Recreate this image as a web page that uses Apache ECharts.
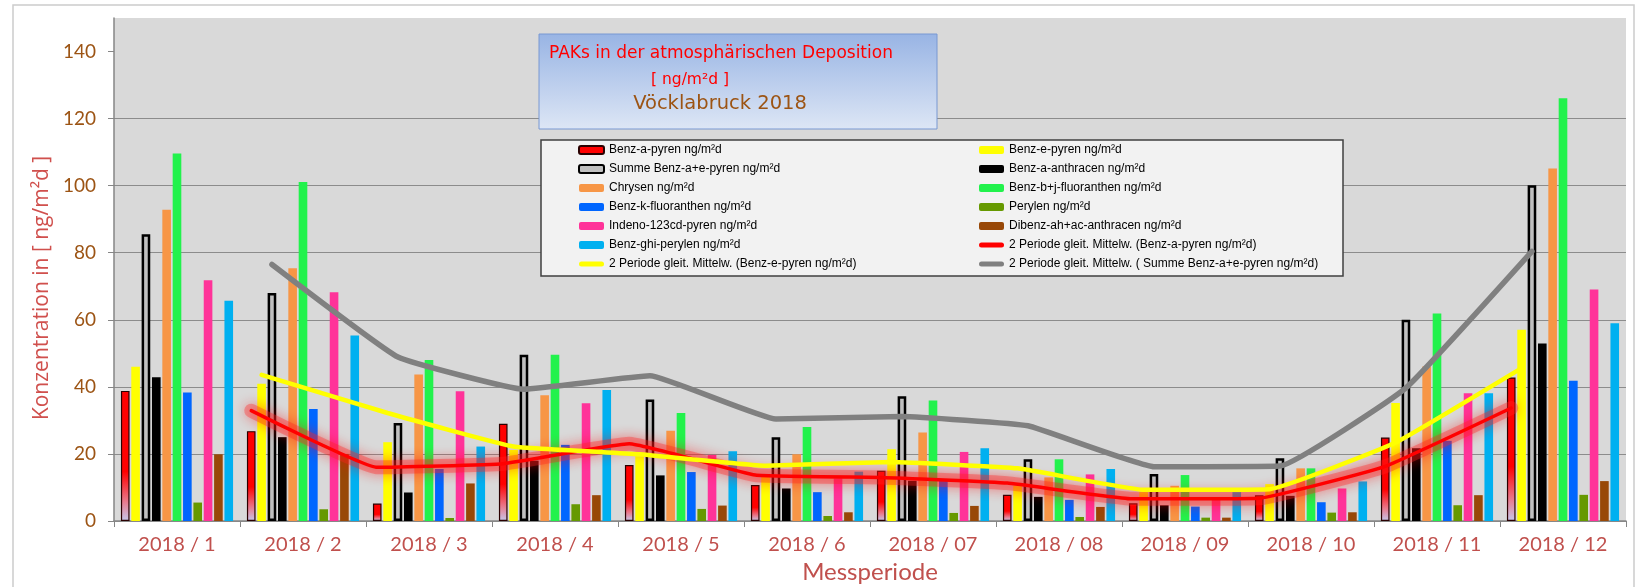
<!DOCTYPE html>
<html>
<head>
<meta charset="utf-8">
<title>PAKs in der atmosphärischen Deposition - Vöcklabruck 2018</title>
<script src="https://cdn.jsdelivr.net/npm/echarts@6/dist/echarts.min.js"></script>
<style>
  html, body { margin: 0; padding: 0; background: #fff; }
  #chart { width: 1637px; height: 587px; }
</style>
</head>
<body>
<div id="chart"></div>
<script>
// Messperioden
const categories = ['2018 / 1', '2018 / 2', '2018 / 3', '2018 / 4', '2018 / 5', '2018 / 6',
  '2018 / 07', '2018 / 08', '2018 / 09', '2018 / 10', '2018 / 11', '2018 / 12']

// Werte in ng/m²d
const benzAPyren = [38.8, 26.8, 5.2, 29.0, 16.7, 10.7, 15.0, 7.8, 5.3, 7.7, 24.9, 42.8]
const benzEPyren = [46.0, 40.9, 23.5, 21.2, 19.3, 14.0, 21.4, 10.5, 8.6, 11.0, 35.2, 57.0]
const summeAE = [85.5, 68.0, 29.2, 49.6, 36.2, 25.0, 37.2, 18.4, 14.0, 18.7, 60.0, 100.1]
const benzAAnthracen = [42.9, 25.0, 8.5, 18.0, 13.6, 9.7, 12.0, 7.2, 4.7, 7.5, 21.7, 52.9]
const chrysen = [92.8, 75.4, 43.7, 37.5, 26.9, 19.9, 26.4, 13.0, 10.5, 15.7, 46.1, 105.1]
const benzBJFluoranthen = [109.6, 101.1, 48.0, 49.6, 32.2, 28.0, 35.9, 18.4, 13.7, 15.7, 61.9, 126.1]
const benzKFluoranthen = [38.3, 33.4, 15.5, 22.7, 14.6, 8.6, 12.0, 6.3, 4.3, 5.6, 23.9, 41.8]
const perylen = [5.5, 3.5, 0.9, 5.0, 3.6, 1.5, 2.4, 1.2, 1.0, 2.5, 4.7, 7.8]
const indenoPyren = [71.8, 68.2, 38.7, 35.1, 19.7, 12.7, 20.6, 13.9, 7.0, 9.7, 38.1, 69.0]
const dibenzAnthracen = [19.9, 20.0, 11.2, 7.7, 4.6, 2.6, 4.5, 4.2, 1.0, 2.6, 7.7, 11.9]
const benzGhiPerylen = [65.7, 55.3, 22.2, 39.1, 20.8, 14.7, 21.7, 15.5, 8.6, 11.8, 38.1, 59.0]

// 2 Perioden gleitende Mittelwerte (erste Periode leer)
const maBenzAPyren = [null, 32.9, 16.0, 17.1, 23.0, 13.7, 13.0, 11.3, 6.6, 6.8, 16.3, 33.7]
const maBenzEPyren = [null, 43.6, 32.2, 22.2, 19.9, 16.5, 17.6, 15.7, 9.3, 9.5, 23.4, 45.6]
const maSumme = [null, 76.5, 48.9, 39.3, 43.3, 30.4, 31.2, 28.4, 16.2, 16.4, 39.7, 80.4]

const yTicks = [0, 20, 40, 60, 80, 100, 120, 140]

const barSeriesDefs = [
  { name: 'Benz-a-pyren ng/m²d', data: benzAPyren },
  { name: 'Benz-e-pyren ng/m²d', data: benzEPyren, color: '#ffff00' },
  { name: 'Summe Benz-a+e-pyren ng/m²d', data: summeAE },
  { name: 'Benz-a-anthracen ng/m²d', data: benzAAnthracen, color: '#000000' },
  { name: 'Chrysen ng/m²d', data: chrysen, color: '#f79646' },
  { name: 'Benz-b+j-fluoranthen ng/m²d', data: benzBJFluoranthen, color: '#22f24c' },
  { name: 'Benz-k-fluoranthen ng/m²d', data: benzKFluoranthen, color: '#0066ff' },
  { name: 'Perylen ng/m²d', data: perylen, color: '#669900' },
  { name: 'Indeno-123cd-pyren ng/m²d', data: indenoPyren, color: '#ff3399' },
  { name: 'Dibenz-ah+ac-anthracen ng/m²d', data: dibenzAnthracen, color: '#984807' },
  { name: 'Benz-ghi-perylen ng/m²d', data: benzGhiPerylen, color: '#00b0f0' }
]

// Balkenlayout, damit die Trendlinien auf "ihren" Balken sitzen (wie in Excel)
const CAT_GAP = 0.11
const BAR_GAP = 0.2
const nBars = barSeriesDefs.length
const barW = (1 - CAT_GAP) / (nBars + (nBars - 1) * BAR_GAP)
const barOffset = (i) => -(1 - CAT_GAP) / 2 + barW / 2 + i * barW * (1 + BAR_GAP)

const toLine = (arr, barIndex) => arr
  .map((v, i) => (v == null ? null : [i + barOffset(barIndex), v]))
  .filter((p) => p)

const redGradient = new echarts.graphic.LinearGradient(0, 0, 0, 1, [
  { offset: 0, color: '#ff0000' },
  { offset: 0.62, color: '#ff0000' },
  { offset: 0.85, color: '#e9798c' },
  { offset: 1, color: '#c6c8ec' }
])

const barSeries = barSeriesDefs.map((d, i) => {
  let itemStyle = { color: d.color }
  if (i === 0) itemStyle = { color: redGradient, borderColor: '#2a0000', borderWidth: 1.2 }
  if (i === 2) itemStyle = { color: '#c0c0c0', borderColor: '#000000', borderWidth: 2.5 }
  return {
    name: d.name,
    type: 'bar',
    data: d.data,
    barCategoryGap: (CAT_GAP * 100) + '%',
    barGap: (BAR_GAP * 100) + '%',
    itemStyle,
    z: 2
  }
})

const lineSeries = [
  {
    name: '2 Periode gleit. Mittelw. (Benz-a-pyren ng/m²d)',
    color: '#ff0000',
    type: 'line',
    xAxisIndex: 1,
    data: toLine(maBenzAPyren, 0),
    smooth: 0.1,
    symbol: 'none',
    lineStyle: { color: '#ff0000', width: 3.5, cap: 'round',
      shadowBlur: 16, shadowColor: 'rgba(255,0,0,0.95)' },
    z: 4
  },
  {
    name: '2 Periode gleit. Mittelw. (Benz-e-pyren ng/m²d)',
    color: '#ffff00',
    type: 'line',
    xAxisIndex: 1,
    data: toLine(maBenzEPyren, 1),
    smooth: 0.1,
    symbol: 'none',
    lineStyle: { color: '#ffff00', width: 4.5, cap: 'round' },
    z: 5
  },
  {
    name: '2 Periode gleit. Mittelw. ( Summe Benz-a+e-pyren ng/m²d)',
    color: '#808080',
    type: 'line',
    xAxisIndex: 1,
    data: toLine(maSumme, 2),
    smooth: 0.1,
    symbol: 'none',
    lineStyle: { color: '#808080', width: 5.5, cap: 'round' },
    z: 5
  }
]

// weicher Schein unter der roten Trendlinie (nur Optik, nicht in der Legende)
const redGlow = {
  name: 'glow',
  type: 'line',
  xAxisIndex: 1,
  data: toLine(maBenzAPyren, 0),
  smooth: 0.1,
  symbol: 'none',
  silent: true,
  lineStyle: { color: 'rgba(255,40,40,0.35)', width: 14, cap: 'round',
    shadowBlur: 12, shadowColor: 'rgba(255,0,0,0.6)' },
  z: 3
}

// Legende: Balken als Rechteck, Trendlinien als dicke Linie mit runden Enden
const lineIcon = 'path://M2.5,0 H22.5 A2.5,2.5 0 0 1 22.5,5 H2.5 A2.5,2.5 0 0 1 2.5,0 Z'
const legendItem = (s, i) => {
  if (s.type === 'line') return { name: s.name, icon: lineIcon, itemStyle: { color: s.color } }
  if (i === 0) return { name: s.name, itemStyle: { color: '#ff0000' } }
  return { name: s.name }
}
const allSeries = barSeries.concat(lineSeries)
const legendItems = allSeries.map(legendItem)
const legendBase = {
  orient: 'vertical',
  top: 143,
  padding: 0,
  itemWidth: 25,
  itemHeight: 8,
  itemGap: 5,
  z: 60,
  selectedMode: false,
  textStyle: { fontFamily: 'Liberation Sans', fontSize: 12, lineHeight: 14, color: '#000' }
}

const chart = echarts.init(document.getElementById('chart'))

chart.setOption({
  backgroundColor: '#ffffff',
  animation: false,
  grid: {
    left: 114,
    right: 11,
    top: 18,
    bottom: 66,
    containLabel: false,
    outerBoundsMode: 'none',
    show: true,
    backgroundColor: '#d9d9d9',
    borderWidth: 0
  },
  legend: [
    Object.assign({}, legendBase, { left: 578, data: legendItems.filter((n, i) => i % 2 === 0) }),
    Object.assign({}, legendBase, { left: 979, data: legendItems.filter((n, i) => i % 2 === 1) })
  ],
  xAxis: [
    {
      type: 'category',
      data: categories,
      boundaryGap: true,
      name: 'Messperiode',
      nameLocation: 'middle',
      nameGap: 38,
      nameTextStyle: { color: '#c0504d', fontSize: 24, fontFamily: 'Lato' },
      axisLine: { onZero: false, lineStyle: { color: '#868686', width: 1.5 } },
      axisTick: { show: true, length: 6, lineStyle: { color: '#868686' } },
      axisLabel: { color: '#c0504d', fontSize: 20, fontFamily: 'Lato', margin: 14 }
    },
    {
      type: 'value',
      min: -0.5,
      max: categories.length - 0.5,
      show: false,
      axisLine: { show: false },
      axisTick: { show: false },
      axisLabel: { show: false },
      splitLine: { show: false }
    }
  ],
  yAxis: {
    type: 'value',
    min: 0,
    max: 150,
    interval: 20,
    axisLine: { show: true, onZero: false, lineStyle: { color: '#868686', width: 1.5 } },
    axisTick: { show: true, length: 6, customValues: yTicks, lineStyle: { color: '#868686' } },
    axisLabel: {
      color: '#9c5414', fontSize: 19, fontFamily: 'Lato', margin: 18,
      customValues: yTicks
    },
    splitLine: { show: true, showMaxLine: false, lineStyle: { color: '#8c8c8c', width: 1 } }
  },
  graphic: [
    {
      type: 'rect',
      silent: true,
      z: -10,
      shape: { x: 13, y: 5, width: 1621, height: 600 },
      style: { fill: 'none', stroke: '#cccccc', lineWidth: 1.5 }
    },
    {
      type: 'text',
      silent: true,
      x: 42,
      y: 288,
      rotation: Math.PI / 2,
      style: { text: 'Konzentration in [ ng/m²d ]', x: 0, y: 0,
        textAlign: 'center', textVerticalAlign: 'middle',
        font: '21px "Open Sans"', fill: '#d0504d' }
    },
    {
      type: 'rect',
      silent: true,
      z: 50,
      shape: { x: 539, y: 34, width: 398, height: 95 },
      style: {
        fill: new echarts.graphic.LinearGradient(0, 0, 0, 1, [
          { offset: 0, color: '#98b4e4' },
          { offset: 1, color: '#dde6f5' }
        ]),
        stroke: '#7898d2',
        lineWidth: 1
      }
    },
    {
      type: 'text',
      silent: true,
      z: 51,
      style: { text: 'PAKs in der atmosphärischen Deposition', x: 721, y: 54,
        textAlign: 'center', textVerticalAlign: 'middle',
        font: '17px "DejaVu Sans"', fill: '#ff0000' }
    },
    {
      type: 'text',
      silent: true,
      z: 51,
      style: { text: '[ ng/m²d ]', x: 690, y: 80,
        textAlign: 'center', textVerticalAlign: 'middle',
        font: '15.5px "DejaVu Sans"', fill: '#ff0000' }
    },
    {
      type: 'text',
      silent: true,
      z: 51,
      style: { text: 'Vöcklabruck 2018', x: 720, y: 104,
        textAlign: 'center', textVerticalAlign: 'middle',
        font: '19.5px "DejaVu Sans"', fill: '#9c5414' }
    },
    {
      type: 'rect',
      silent: true,
      z: 50,
      shape: { x: 541, y: 140, width: 802, height: 136 },
      style: { fill: '#f2f2f2', stroke: '#404040', lineWidth: 1.5 }
    }
  ],
  series: allSeries.concat([redGlow])
})

window.addEventListener('resize', () => chart.resize())
</script>
</body>
</html>
